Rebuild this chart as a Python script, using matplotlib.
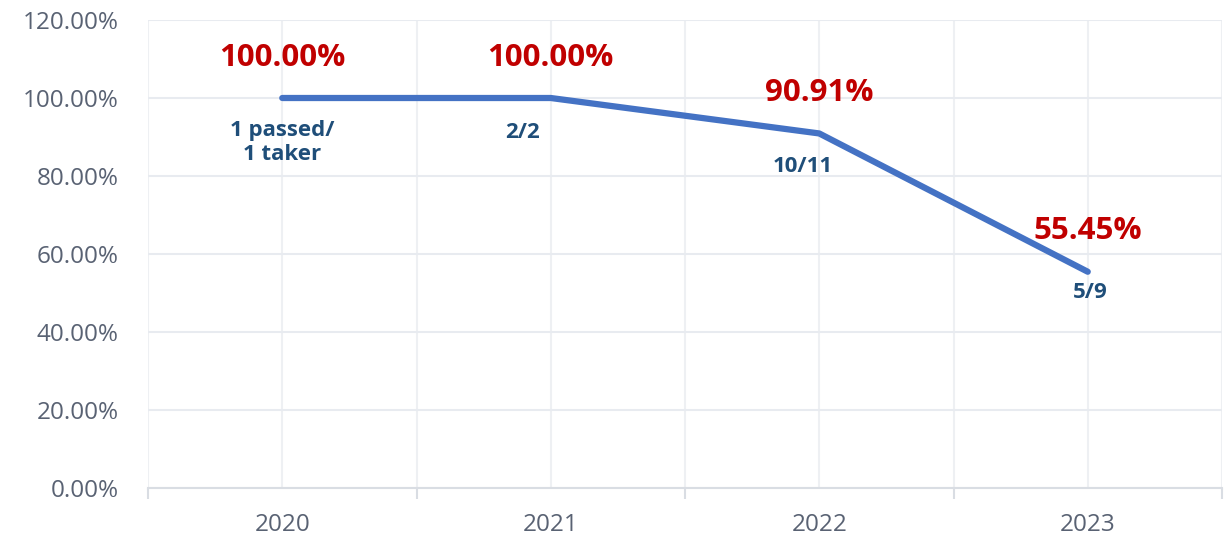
import matplotlib
matplotlib.use("Agg")
import matplotlib.pyplot as plt
from matplotlib.ticker import FixedLocator, FuncFormatter

years = ["2020", "2021", "2022", "2023"]
pass_rate = [100.00, 100.00, 90.91, 55.45]
rate_labels = ["100.00%", "100.00%", "90.91%", "55.45%"]
count_labels = ["1 passed/\n1 taker", "2/2", "10/11", "5/9"]
y_ticks = [0, 20, 40, 60, 80, 100, 120]

plt.rcParams['font.family'] = ['Open Sans', 'DejaVu Sans']

fig = plt.figure(figsize=(12.26, 5.39), dpi=100)
ax = fig.add_axes([148/1226, 1-488/539, (1222-148)/1226, (488-20)/539])

x = list(range(len(years)))
ax.plot(x, pass_rate, color="#4472C4", lw=4.5, solid_capstyle="round", solid_joinstyle="round", zorder=3)

ax.set_xlim(-0.5, len(years) - 0.5)
ax.set_ylim(0, 120)

grid_c = "#E8EBF0"
ax.yaxis.set_major_locator(FixedLocator(y_ticks))
ax.yaxis.set_major_formatter(FuncFormatter(lambda v, p: f"{v:.2f}%"))
ax.grid(axis="y", color=grid_c, lw=1.5, zorder=0)

# x: category centers as labels (minor gridlines), boundaries as ticks
ax.set_xticks([i - 0.5 for i in range(len(years) + 1)])
ax.set_xticklabels([])
ax.set_xticks(x, minor=True)
ax.set_xticklabels(years, minor=True)
ax.grid(axis="x", which="both", color="#EEF0F3", lw=1.5, zorder=0)
ax.tick_params(axis="x", which="major", length=8, width=1.5, color="#D9DDE3", direction="out")
ax.tick_params(axis="x", which="minor", length=0, pad=18, labelsize=17.5, labelcolor="#596273")
ax.tick_params(axis="y", length=0, pad=21, labelsize=17.5, labelcolor="#596273")

for s in ["top", "right", "left"]:
    ax.spines[s].set_visible(False)
ax.spines["bottom"].set_color("#D9DDE3")
ax.spines["bottom"].set_linewidth(1.5)

rate_offsets = [(0, 29), (0, 29), (0, 29), (0, 29)]
count_offsets = [(0, -32), (-20, -25), (-12, -24), (2, -15)]
for i in x:
    ax.annotate(rate_labels[i], (i, pass_rate[i]), xytext=rate_offsets[i], textcoords="offset points",
                ha="center", va="center", color="#C00000", fontsize=22.5, fontweight="bold")
    ax.annotate(count_labels[i], (i, pass_rate[i]), xytext=count_offsets[i], textcoords="offset points",
                ha="center", va="center", color="#1F4E79", fontsize=16, fontweight="bold",
                linespacing=1.2)

fig.savefig("out.png", dpi=100)
